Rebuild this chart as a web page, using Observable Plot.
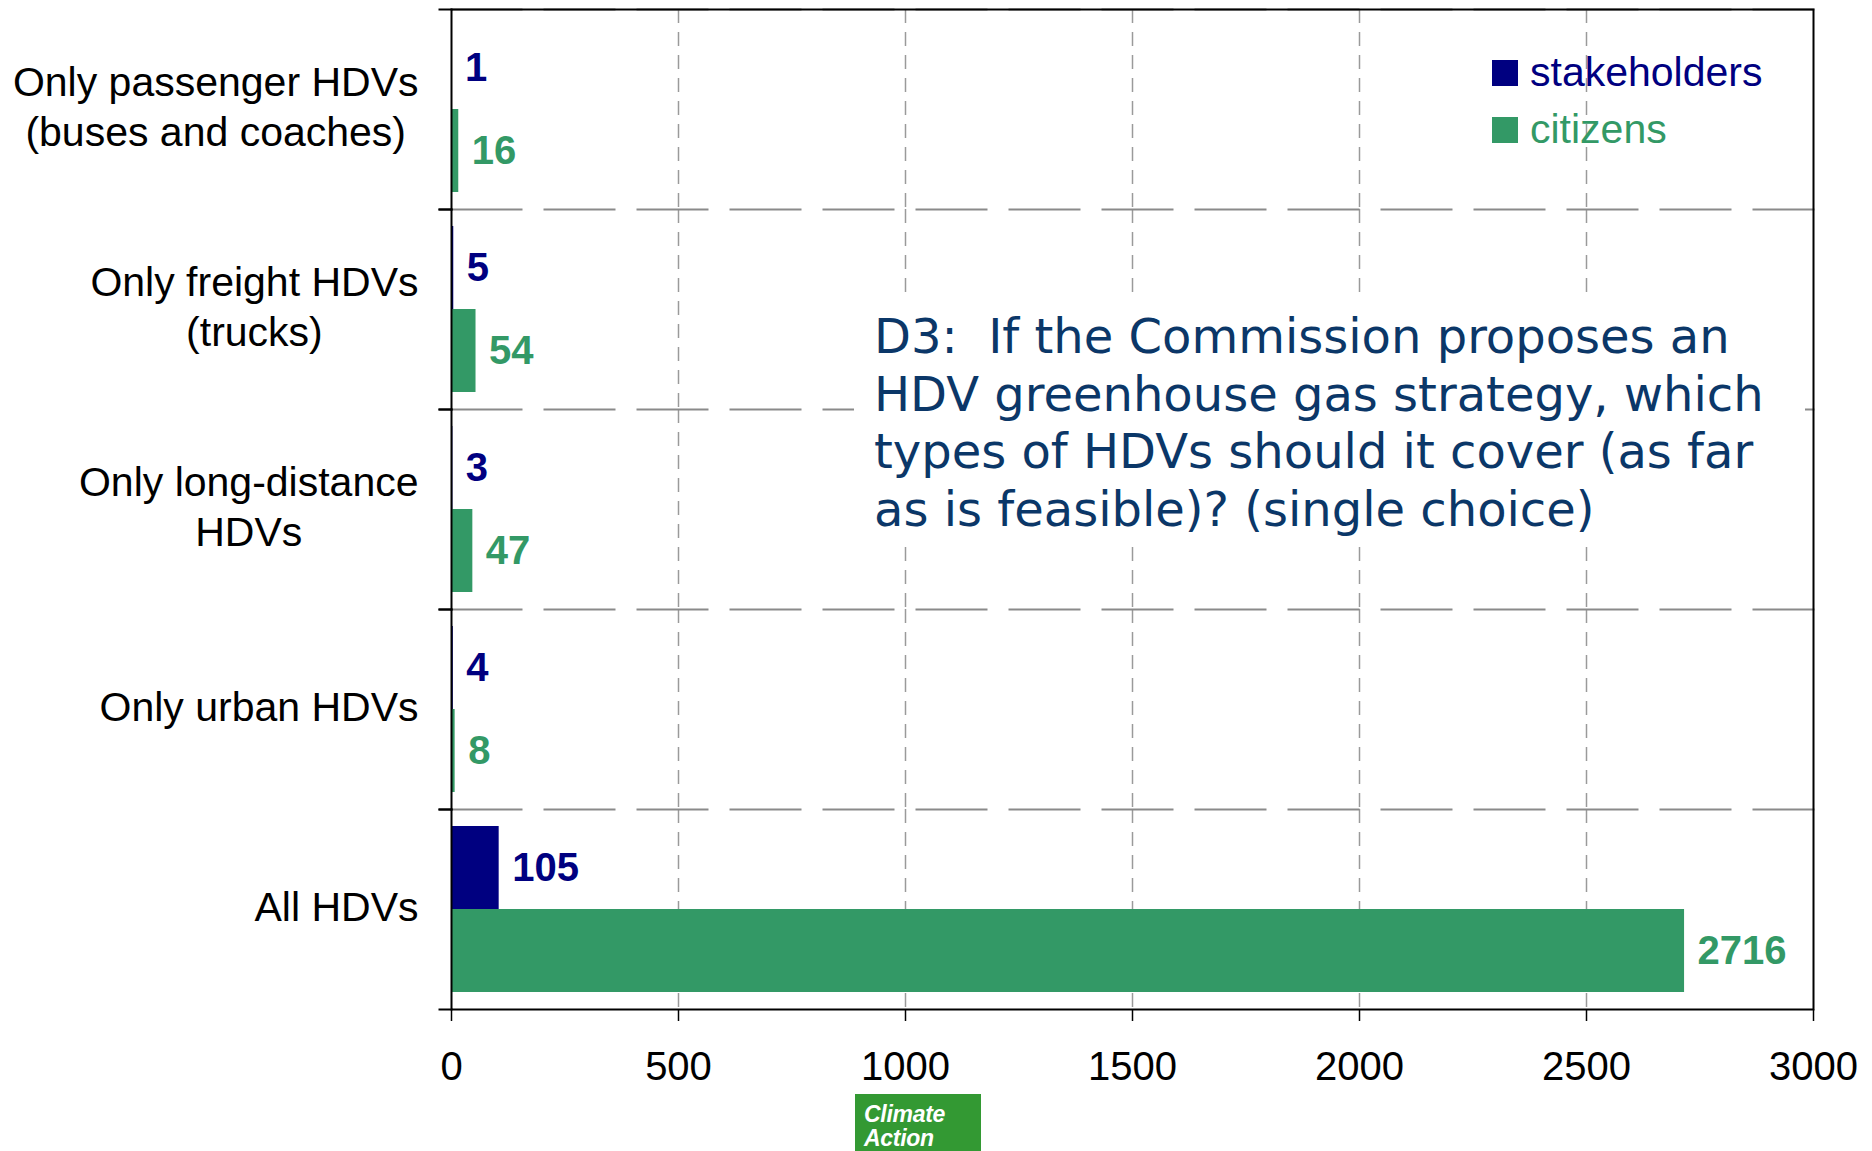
<!DOCTYPE html>
<html>
<head>
<meta charset="utf-8">
<script src="https://cdn.jsdelivr.net/npm/d3@7"></script>
<script src="https://cdn.jsdelivr.net/npm/@observablehq/plot@0.6"></script>
<style>
  html, body { margin: 0; padding: 0; background: white; }
  #wrap { position: relative; width: 1872px; height: 1151px; overflow: hidden; }
  #chart svg { display: block; }
  .legend { position: absolute; left: 1492px; font-family: 'Liberation Sans', Arial, sans-serif; font-size: 41px; line-height: 41px; display: flex; align-items: center; white-space: nowrap; }
  .legend .sw { width: 26px; height: 26px; margin-right: 12px; }
  #question { position: absolute; left: 854px; top: 295px; width: 951px; height: 252px; background: white;
    font-family: 'DejaVu Sans', Verdana, sans-serif; font-size: 48px; line-height: 57.5px; color: #0b3768;
    padding: 13px 0 0 20px; box-sizing: border-box; white-space: pre; }
  #logo { position: absolute; left: 855px; top: 1094px; width: 126px; height: 57px; background: #339933; color: white;
    font-family: 'Liberation Sans', Arial, sans-serif; font-style: italic; font-weight: bold; font-size: 23px; line-height: 24px;
    padding: 8px 0 0 9px; box-sizing: border-box; letter-spacing: -0.3px; }
</style>
</head>
<body>
<div id="wrap">
  <div id="chart"></div>
  <div id="question"></div>
  <div id="legend"></div>
  <div id="logo">Climate<br>Action</div>
</div>
<script>
const categories = [
  "Only passenger HDVs\n(buses and coaches)",
  "Only freight HDVs\n(trucks)",
  "Only long-distance\nHDVs",
  "Only urban HDVs",
  "All HDVs"
];
const seriesNames = ["stakeholders", "citizens"];
const seriesColors = ["#000080", "#339966"];
const stakeholders = [1, 5, 3, 4, 105];
const citizens = [16, 54, 47, 8, 2716];
const xTicks = [0, 500, 1000, 1500, 2000, 2500, 3000];
const questionLines = [
  "D3:  If the Commission proposes an",
  "HDV greenhouse gas strategy, which",
  "types of HDVs should it cover (as far",
  "as is feasible)? (single choice)"
];

const data = categories.flatMap((c, i) => [
  {category: c, series: "stakeholders", value: stakeholders[i]},
  {category: c, series: "citizens", value: citizens[i]}
]);

// measure label widths so that multi-line labels are centered within a right-aligned block
const ctx = document.createElement("canvas").getContext("2d");
ctx.font = "41px 'Liberation Sans'";
const blockWidth = (s) => Math.max(...s.split("\n").map(l => ctx.measureText(l).width));
const labelGap = 33;

const labelMarks = categories.map(c => Plot.text([c], {
  fy: d => d, text: d => d, frameAnchor: "left", textAnchor: "middle",
  dx: -labelGap - blockWidth(c) / 2, dy: -5, fontSize: 41, lineHeight: 1.22, fill: "black"
}));

const chart = Plot.plot({
  width: 1872, height: 1151,
  marginLeft: 451, marginRight: 59, marginTop: 8, marginBottom: 141,
  style: {fontFamily: "'Liberation Sans', Arial, sans-serif", background: "white", overflow: "visible"},
  x: {domain: [0, 3000]},
  y: {domain: seriesNames, paddingInner: 0, paddingOuter: 0.2, axis: null},
  fy: {domain: categories, padding: 0, axis: null},
  color: {domain: seriesNames, range: seriesColors},
  marks: [
    Plot.gridX(xTicks.slice(1, -1), {stroke: "#9a9a9a", strokeOpacity: 1, strokeWidth: 1.5, strokeDasharray: "14,9"}),
    Plot.frame({anchor: "top", stroke: "#8a8a8a", strokeWidth: 2, strokeDasharray: "70,23"}),
    Plot.barX(data, {fy: "category", y: "series", x: "value", fill: "series"}),
    Plot.text(data, {fy: "category", y: "series", x: "value", text: d => String(d.value), fill: "series",
      dx: 13, textAnchor: "start", fontWeight: "bold", fontSize: 40}),
    ...labelMarks,
    Plot.axisX({ticks: xTicks, tickFormat: "d", tickSize: 12, tickPadding: 30, fontSize: 40, label: null, stroke: "black", strokeWidth: 1.5, fill: "black"}),
    Plot.frame({anchor: "top", insetLeft: -12, stroke: "black", strokeWidth: 2, strokeDasharray: "12,5000"}),
    Plot.frame({anchor: "bottom", insetLeft: -12, stroke: "black", strokeWidth: 2, strokeDasharray: "12,5000"}),
    Plot.frame({facet: "super", stroke: "black", strokeWidth: 2})
  ]
});
document.getElementById("chart").appendChild(chart);

document.getElementById("question").textContent = questionLines.join("\n");

const legend = document.getElementById("legend");
seriesNames.forEach((s, i) => {
  const row = document.createElement("div");
  row.className = "legend";
  row.style.top = (52 + i * 57) + "px";
  row.style.color = seriesColors[i];
  const sw = document.createElement("div");
  sw.className = "sw";
  sw.style.background = seriesColors[i];
  row.appendChild(sw);
  row.appendChild(document.createTextNode(s));
  legend.appendChild(row);
});
</script>
</body>
</html>
